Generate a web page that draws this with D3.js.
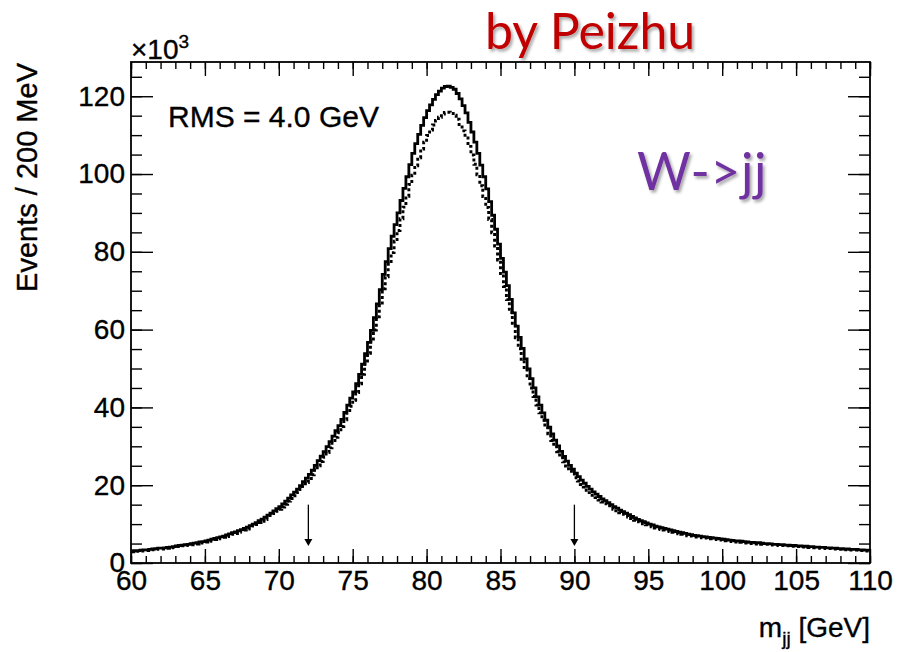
<!DOCTYPE html>
<html><head><meta charset="utf-8">
<script src="https://cdn.jsdelivr.net/npm/d3@7"></script>
<style>html,body{margin:0;padding:0;background:#fff;} svg{display:block}</style>
</head><body>
<svg id="c" width="898" height="652"></svg>
<script>
// ---------- data (events per 200 MeV bin, in units of 10^3) ----------
const massRange = [60, 110];
const binWidth = 0.2;
const solidCounts = [
3.1,3.2,3.2,3.3,3.4, 3.4,3.5,3.6,3.7,3.8, 3.8,3.9,4.0,4.1,4.2, 4.4,4.5,4.6,4.7,4.8, 5.0,5.1,5.2,5.4,5.5,
5.7,5.9,6.1,6.3,6.5, 6.7,6.9,7.2,7.5,7.8, 8.0,8.3,8.6,8.9,9.2, 9.6,10.0,10.4,10.9,11.3, 11.8,12.3,12.8,13.4,14.0,
14.5,15.2,15.9,16.7,17.5, 18.2,19.0,19.9,20.9,21.8, 22.8,23.9,25.1,26.3,27.5, 28.6,29.9,31.2,32.6,34.0, 35.3,36.9,38.7,40.6,42.4,
44.0,46.1,48.5,51.1,53.8, 56.7,59.8,63.1,66.6,70.3, 74.2,77.5,80.8,84.0,87.0, 90.0,93.2,96.3,99.3,102.4, 105.3,107.8,110.2,112.5,114.5,
116.3,117.8,119.2,120.4,121.3, 122.1,122.5,122.6,122.3,121.8, 120.7,119.3,117.6,115.7,113.3, 110.8,108.2,105.3,102.3,99.3, 96.2,92.9,89.4,85.8,82.0,
78.3,74.8,71.3,67.8,64.3, 60.9,58.0,55.2,52.5,49.9, 47.4,45.0,42.7,40.6,38.6, 36.7,34.9,33.2,31.6,30.1, 28.7,27.4,26.2,25.1,24.1,
23.1,22.2,21.3,20.5,19.7, 19.0,18.3,17.7,17.1,16.5, 16.0,15.5,15.0,14.5,14.1, 13.6,13.2,12.8,12.4,12.0, 11.6,11.2,10.9,10.6,10.3,
10.0,9.8,9.5,9.3,9.1, 8.9,8.7,8.5,8.3,8.1, 7.9,7.8,7.6,7.4,7.3, 7.1,7.0,6.9,6.8,6.7, 6.6,6.5,6.4,6.3,6.2,
6.1,6.0,5.9,5.8,5.7, 5.7,5.6,5.5,5.4,5.3, 5.3,5.2,5.2,5.1,5.0, 5.0,4.9,4.8,4.8,4.7, 4.7,4.6,4.6,4.5,4.5,
4.4,4.4,4.3,4.3,4.2, 4.2,4.1,4.1,4.0,4.0, 3.9,3.9,3.8,3.8,3.7, 3.7,3.6,3.6,3.5,3.5, 3.5,3.4,3.4,3.3,3.3
];
const dottedCounts = [
2.9,3.0,3.0,3.1,3.2, 3.2,3.3,3.4,3.5,3.6, 3.6,3.7,3.8,3.9,4.0, 4.2,4.3,4.4,4.5,4.6, 4.7,4.8,4.9,5.1,5.2,
5.4,5.6,5.8,6.0,6.2, 6.4,6.6,6.8,7.1,7.4, 7.6,7.9,8.2,8.5,8.7, 9.1,9.5,9.9,10.4,10.7, 11.2,11.7,12.2,12.7,13.3,
13.8,14.4,15.1,15.9,16.6, 17.3,18.1,18.9,19.9,20.7, 21.7,22.7,23.8,25.0,26.1, 27.2,28.4,29.6,31.0,32.3, 33.5,35.1,36.8,38.6,40.3,
41.8,43.8,46.1,48.5,51.1, 53.9,56.8,59.9,63.3,66.8, 70.5,73.6,76.8,79.8,82.7, 85.5,88.5,91.5,94.3,97.3, 99.7,102.1,104.2,106.4,108.2,
109.9,111.3,112.6,113.8,114.6, 115.4,115.8,115.9,115.6,115.1, 114.1,112.7,111.1,109.3,107.1, 104.9,102.5,99.8,97.0,94.2, 91.4,88.3,84.9,81.5,77.9,
74.4,71.1,67.7,64.4,61.1, 57.9,55.1,52.4,49.9,47.4, 45.0,42.8,40.6,38.6,36.7, 34.9,33.2,31.5,30.0,28.6, 27.3,26.0,24.9,23.8,22.9,
21.9,21.1,20.2,19.5,18.7, 18.1,17.4,16.8,16.2,15.7, 15.2,14.7,14.3,13.8,13.4, 12.9,12.5,12.2,11.8,11.4, 11.0,10.6,10.4,10.1,9.8,
9.5,9.3,9.0,8.8,8.6, 8.5,8.3,8.1,7.9,7.7, 7.5,7.4,7.2,7.0,6.9, 6.7,6.7,6.6,6.5,6.4, 6.3,6.2,6.1,6.0,5.9,
5.8,5.7,5.6,5.5,5.4, 5.4,5.3,5.2,5.1,5.0, 5.0,4.9,4.9,4.8,4.8, 4.8,4.7,4.6,4.6,4.5, 4.5,4.4,4.4,4.3,4.3,
4.2,4.2,4.1,4.1,4.0, 4.0,3.9,3.9,3.8,3.8, 3.7,3.7,3.6,3.6,3.5, 3.5,3.4,3.4,3.3,3.3, 3.3,3.2,3.2,3.1,3.1
];
const xMajorTicks = [60,65,70,75,80,85,90,95,100,105,110];
const xTickLabels = ["60","65","70","75","80","85","90","95","100","105","110"];
const yMajorTicks = [0,20,40,60,80,100,120];
const yTickLabels = ["0","20","40","60","80","100","120"];
const yMax = 128.8;
const arrowMasses = [72, 90];
const arrowTop = 15.0, arrowTip = 4.4;
const rmsText = "RMS = 4.0 GeV";

// ---------- layout ----------
const L = 131, R = 870, T = 62, B = 563;
const svg = d3.select("#c");
const x = d3.scaleLinear().domain(massRange).range([L, R]);
const y = d3.scaleLinear().domain([0, yMax]).range([B, T]);
const axisFont = "'Liberation Sans', Arial, Helvetica, sans-serif";

svg.append("defs").html(`
  <clipPath id="plot"><rect x="${L}" y="${T}" width="${R-L}" height="${B-T}"/></clipPath>
  <filter id="shadow" x="-10%" y="-10%" width="130%" height="140%">
    <feDropShadow dx="2" dy="2.5" stdDeviation="1.6" flood-color="#000" flood-opacity="0.35"/>
  </filter>`);

// histograms
function histPoints(counts){
  const pts = counts.map((v,i) => [massRange[0] + i*binWidth, v]);
  pts.push([massRange[1], counts[counts.length-1]]);
  return pts;
}
const line = d3.line().x(d => x(d[0])).y(d => y(d[1])).curve(d3.curveStepAfter);
const g = svg.append("g").attr("clip-path", "url(#plot)");
g.append("path").attr("d", line(histPoints(dottedCounts)))
  .attr("fill","none").attr("stroke","#000").attr("stroke-width",2.9).attr("stroke-dasharray","3,2.6");
g.append("path").attr("d", line(histPoints(solidCounts)))
  .attr("fill","none").attr("stroke","#000").attr("stroke-width",2.8).attr("stroke-linejoin","miter");

// axes (ticks on all four sides)
const xMinor = d3.range(massRange[0], massRange[1] + 0.001, 1);
const yMinor = d3.range(0, yMax, 5);
function styleAxis(sel){
  sel.select(".domain").remove();
  sel.selectAll(".tick line").attr("stroke","#000").attr("stroke-width",1.4);
  sel.selectAll("text").attr("font-family", axisFont).attr("font-size", 28).attr("fill","#000")
    .attr("stroke","#000").attr("stroke-width",0.35);
}
svg.append("g").attr("transform",`translate(0,${B})`)
  .call(d3.axisBottom(x).tickValues(xMinor).tickSize(-7).tickFormat("")).call(styleAxis);
svg.append("g").attr("transform",`translate(0,${B})`)
  .call(d3.axisBottom(x).tickValues(xMajorTicks).tickSize(-14).tickPadding(7)
    .tickFormat((d,i) => xTickLabels[i])).call(styleAxis);
svg.append("g").attr("transform",`translate(0,${T})`)
  .call(d3.axisTop(x).tickValues(xMinor).tickSize(-7).tickFormat("")).call(styleAxis);
svg.append("g").attr("transform",`translate(0,${T})`)
  .call(d3.axisTop(x).tickValues(xMajorTicks).tickSize(-14).tickFormat("")).call(styleAxis);

svg.append("g").attr("transform",`translate(${L},0)`)
  .call(d3.axisLeft(y).tickValues(yMinor).tickSize(-11).tickFormat("")).call(styleAxis);
svg.append("g").attr("transform",`translate(${L},0)`)
  .call(d3.axisLeft(y).tickValues(yMajorTicks).tickSize(-22).tickPadding(6)
    .tickFormat((d,i) => yTickLabels[i])).call(styleAxis);
svg.append("g").attr("transform",`translate(${R},0)`)
  .call(d3.axisRight(y).tickValues(yMinor).tickSize(-11).tickFormat("")).call(styleAxis);
svg.append("g").attr("transform",`translate(${R},0)`)
  .call(d3.axisRight(y).tickValues(yMajorTicks).tickSize(-22).tickFormat("")).call(styleAxis);

// frame
svg.append("rect").attr("x",L).attr("y",T).attr("width",R-L).attr("height",B-T)
  .attr("fill","none").attr("stroke","#000").attr("stroke-width",1.8);

// arrows
arrowMasses.forEach(m => {
  const ax = x(m), y0 = y(arrowTop), y1 = y(arrowTip);
  svg.append("line").attr("x1",ax).attr("x2",ax).attr("y1",y0).attr("y2",y1-6)
    .attr("stroke","#000").attr("stroke-width",1.3);
  svg.append("path").attr("d",`M${ax-4},${y1-7} L${ax+4},${y1-7} L${ax},${y1} Z`).attr("fill","#000");
});

// text helper (slightly heavier strokes, like the reference rendering)
function heavy(sel){ return sel.attr("stroke","#000").attr("stroke-width",0.35); }

// exponent label
const ex = heavy(svg.append("text").attr("x",L).attr("y",59)
  .attr("font-family",axisFont).attr("font-size",28).attr("fill","#000"));
ex.append("tspan").text("\u00d710");
ex.append("tspan").attr("font-size",19).attr("dy",-11).text("3");

// axis titles
heavy(svg.append("text").attr("transform",`translate(37,${T+1}) rotate(-90)`)
  .attr("text-anchor","end").attr("font-family",axisFont).attr("font-size",29).attr("fill","#000"))
  .text("Events / 200 MeV");
const xt = heavy(svg.append("text").attr("x",R).attr("y",637).attr("text-anchor","end")
  .attr("font-family",axisFont).attr("font-size",28).attr("fill","#000"));
xt.append("tspan").text("m");
xt.append("tspan").attr("font-size",19).attr("dy",8).text("jj");
xt.append("tspan").attr("dy",-8).text(" [GeV]");

// RMS label
heavy(svg.append("text").attr("x",168).attr("y",127).attr("font-family",axisFont)
  .attr("font-size",30).attr("fill","#000")).text(rmsText);

// overlay annotations
svg.append("text").attr("x",485).attr("y",49).attr("font-family","Lato, 'Open Sans', sans-serif")
  .attr("font-size",50).attr("fill","#c00000").attr("filter","url(#shadow)").text("by Peizhu");
svg.append("text").attr("x",637).attr("y",190).attr("font-family","Lato, 'Open Sans', sans-serif")
  .attr("font-size",52).attr("letter-spacing",0.5).attr("fill","#7030a0").attr("filter","url(#shadow)").text("W->jj");
</script>
</body></html>
